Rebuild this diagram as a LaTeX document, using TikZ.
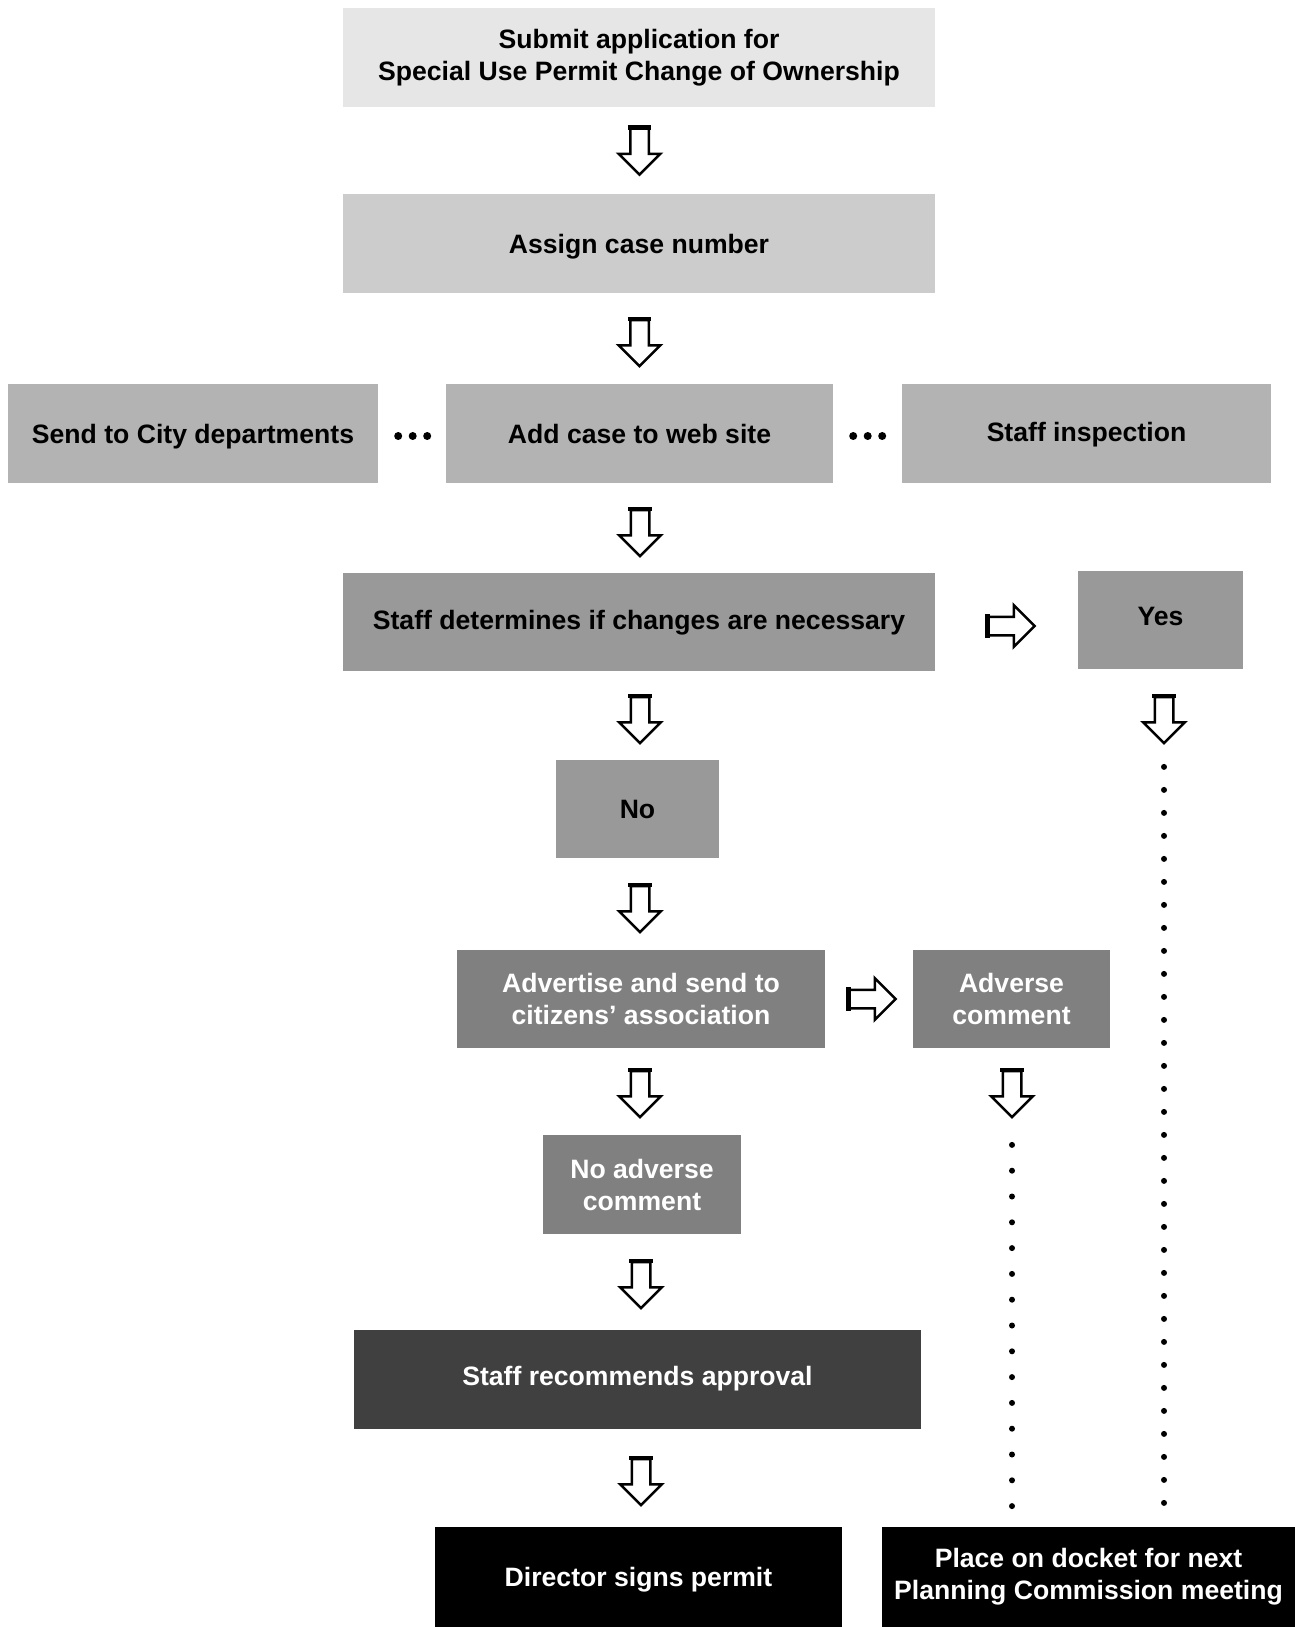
\documentclass[tikz,border=0pt]{standalone}
\usepackage{fontspec}
\setmainfont{Liberation Sans}
\usepackage{tikz}
\usetikzlibrary{shapes.arrows}

\definecolor{greyA}{HTML}{E6E6E6}
\definecolor{greyB}{HTML}{CCCCCC}
\definecolor{greyC}{HTML}{B3B3B3}
\definecolor{greyD}{HTML}{999999}
\definecolor{greyE}{HTML}{808080}
\definecolor{greyF}{HTML}{404040}

\tikzset{
  stepbox/.style={rectangle, inner sep=0pt, align=center,
    font=\bfseries\fontsize{26.6}{32}\selectfont},
  oneline/.style={text height=19pt, text depth=0pt},
  blockdown/.style={single arrow, draw=black, fill=white, line width=2.5pt,
    shape border rotate=270, minimum height=46pt, minimum width=39pt,
    single arrow head extend=11.5pt, inner sep=8pt,
    append after command={(\tikzlastnode.before tail) edge[line width=4.5pt,
      shorten <=-1.25pt, shorten >=-1.25pt] (\tikzlastnode.after tail)}},
  blockright/.style={blockdown, shape border rotate=0},
  dotline/.style={line width=6pt, line cap=round, dash pattern=on 0pt off #1},
}

\begin{document}
\begin{tikzpicture}[x=1pt,y=-1pt]
 \path[use as bounding box] (0,0) rectangle (1295,1627);

% boxes
\node[stepbox, fill=greyA, minimum width=592pt, minimum height=99pt] (submit) at (639,57.5)
  {Submit application for\\Special Use Permit Change of Ownership};
\node[stepbox, oneline, fill=greyB, minimum width=592pt, minimum height=99pt] (assign) at (639,243.5)
  {Assign case number};
\node[stepbox, oneline, fill=greyC, minimum width=370pt, minimum height=99pt] (send) at (193,433.5)
  {Send to City departments};
\node[stepbox, oneline, fill=greyC, minimum width=387pt, minimum height=99pt] (web) at (639.5,433.5)
  {Add case to web site};
\node[stepbox, oneline, fill=greyC, minimum width=369pt, minimum height=99pt] (inspect) at (1086.5,433.5)
  {\raisebox{2pt}{Staff inspection}};
\node[stepbox, oneline, fill=greyD, minimum width=592pt, minimum height=98pt] (determine) at (639,622)
  {\raisebox{2pt}{Staff determines if changes are necessary}};
\node[stepbox, oneline, fill=greyD, minimum width=165pt, minimum height=98pt] (yes) at (1160.5,620)
  {\raisebox{4pt}{Yes}};
\node[stepbox, oneline, fill=greyD, minimum width=163pt, minimum height=98pt] (no) at (637.5,809)
  {No};
\node[stepbox, fill=greyE, text=white, minimum width=368pt, minimum height=98pt] (advertise) at (641,999)
  {Advertise and send to\\citizens’ association};
\node[stepbox, fill=greyE, text=white, minimum width=197pt, minimum height=98pt] (adverse) at (1011.5,999)
  {Adverse\\comment};
\node[stepbox, fill=greyE, text=white, minimum width=198pt, minimum height=99pt] (noadverse) at (642,1184.5)
  {No adverse\\comment};
\node[stepbox, oneline, fill=greyF, text=white, minimum width=567pt, minimum height=99pt] (recommend) at (637.5,1379.5)
  {\raisebox{4pt}{Staff recommends approval}};
\node[stepbox, oneline, fill=black, text=white, minimum width=407pt, minimum height=100pt] (director) at (638.5,1577)
  {Director signs permit};
\node[stepbox, fill=black, text=white, minimum width=413pt, minimum height=100pt] (docket) at (1088.5,1577)
  {Place on docket for next\\Planning Commission meeting};

% block arrows
\node[blockdown] (dn1) at (639.5,147) {};
\node[blockdown] (dn2) at (639.5,338.5) {};
\node[blockdown] (dn3) at (640,528.5) {};
\node[blockdown] (dn4) at (640,715.5) {};
\node[blockdown] (dn5) at (640,904.5) {};
\node[blockdown] (dn6) at (640,1089.5) {};
\node[blockdown] (dn7) at (641,1280.5) {};
\node[blockdown] (dn8) at (641,1477.5) {};
\node[blockdown] (yesdn) at (1164,715.5) {};
\node[blockdown] (adversedn) at (1012,1089.5) {};
\node[blockright] (toyes) at (1007,626) {};
\node[blockright] (toadverse) at (868,999) {};

% dots
\draw[dotline=14.5pt, line width=8pt] ([xshift=20pt,yshift=-2.5pt]send.east) -- ([xshift=-14pt,yshift=-2.5pt]web.west);
\draw[dotline=14.5pt, line width=8pt] ([xshift=20pt,yshift=-2.5pt]web.east) -- ([xshift=-15pt,yshift=-2.5pt]inspect.west);
\draw[dotline=23pt] ([yshift=-22pt]yesdn.tip) -- ([yshift=20pt]docket.north -| yesdn.tip);
\draw[dotline=25.8pt] ([yshift=-26pt]adversedn.tip) -- ([yshift=16pt]docket.north -| adversedn.tip);

\end{tikzpicture}
\end{document}
